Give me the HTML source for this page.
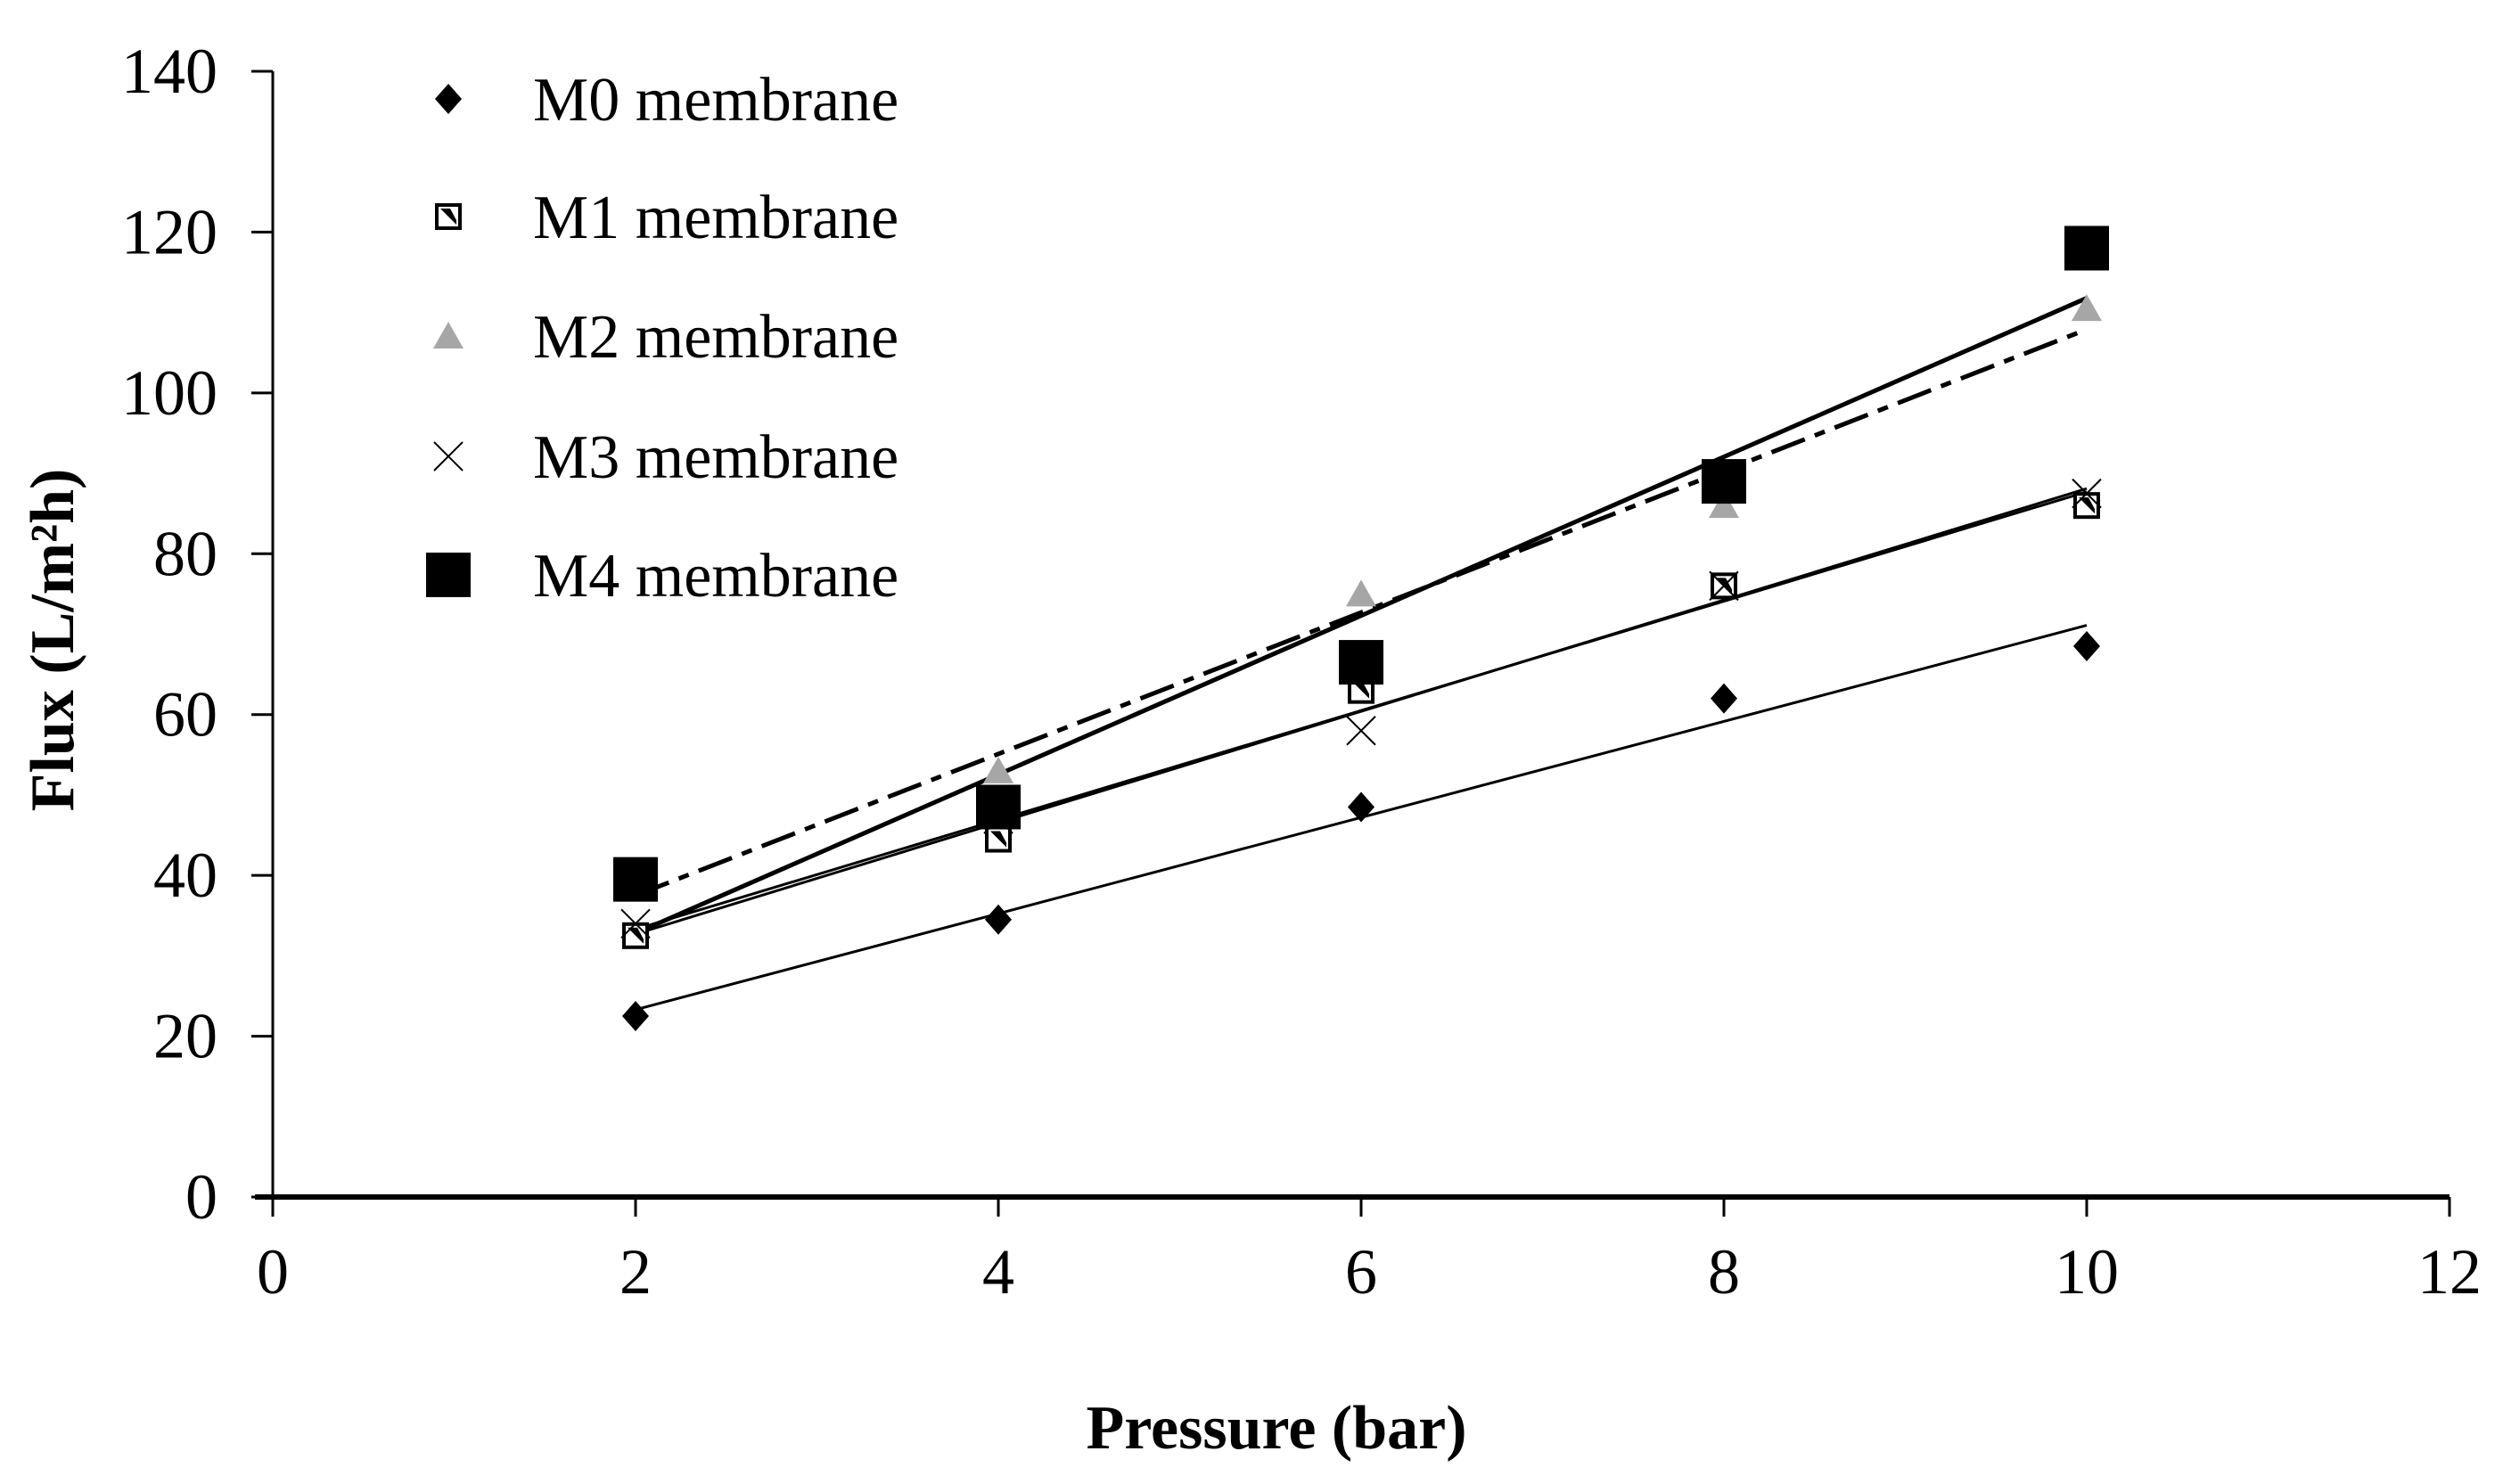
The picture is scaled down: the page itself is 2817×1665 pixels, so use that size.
<!DOCTYPE html>
<html><head><meta charset="utf-8"><style>
html,body{margin:0;padding:0;background:#fff;}
svg{display:block;font-family:"Liberation Serif",serif;}
</style></head><body>
<svg id="chart" width="2817" height="1665" viewBox="0 0 2817 1665" xmlns="http://www.w3.org/2000/svg">
<rect width="2817" height="1665" fill="#fff"/>
<g id="axes"></g><g id="lines"></g><g id="marks"></g><g id="legend"></g>
<text transform="translate(82,718) rotate(-90)" text-anchor="middle" font-weight="bold" font-size="70">Flux (L/m²h)</text>
<text x="1432" y="1625" text-anchor="middle" font-weight="bold" font-size="70">Pressure (bar)</text>
</svg>
<script>
const pressures = [2, 4, 6, 8, 10];
const m0Flux = [22.5, 34.5, 48.5, 62, 68.5];
const m1Flux = [32.5, 44.5, 63, 76, 86];
const m2Flux = [39, 53, 75, 86, 110.5];
const m3Flux = [34, 47, 58, 76, 87.5];
const m4Flux = [39.5, 48.5, 66.5, 89, 118];
const seriesNames = ["M0 membrane","M1 membrane","M2 membrane","M3 membrane","M4 membrane"];
const xTicks = [0, 2, 4, 6, 8, 10, 12];
const yTicks = [0, 20, 40, 60, 80, 100, 120, 140];

const NS = "http://www.w3.org/2000/svg";
const X0 = 306, X1 = 2748, Y0 = 1343, Y1 = 80;
function xs(v){ return X0 + (v - 0) / 12 * (X1 - X0); }
function ys(v){ return Y0 - v / 140 * (Y0 - Y1); }
function mk(tag, attrs, parent){ const e = document.createElementNS(NS, tag); for (const k in attrs) e.setAttribute(k, attrs[k]); parent.appendChild(e); return e; }

const axes = document.getElementById('axes');
let el = mk('line', {x1:xs(0), y1:ys(140), x2:xs(0), y2:ys(0), stroke:'#000', 'stroke-width':3}, axes);


el = mk('line', {x1:xs(0)-20, y1:ys(0), x2:xs(12), y2:ys(0), stroke:'#000', 'stroke-width':6}, axes);


yTicks.forEach(t => {
  const tk = mk('line', {x1:xs(0)-24, y1:ys(t), x2:xs(0), y2:ys(t), stroke:'#000', 'stroke-width':3}, axes);
  
  
  const lb = mk('text', {x:xs(0)-62, y:ys(t)+24, 'text-anchor':'end', 'font-size':72}, axes);
  lb.textContent = t;
  
  
});
xTicks.forEach(t => {
  const tk = mk('line', {x1:xs(t), y1:ys(0), x2:xs(t), y2:ys(0)+22, stroke:'#000', 'stroke-width':3}, axes);
  
  
  const lb = mk('text', {x:xs(t), y:ys(0)+108, 'text-anchor':'middle', 'font-size':72}, axes);
  lb.textContent = t;
  
  
});

const allSeries = [m0Flux, m1Flux, m2Flux, m3Flux, m4Flux];
const lineStyles = [
  {w:3, dash:null}, {w:3, dash:null}, {w:5, dash:'40 12 12 12'}, {w:3, dash:null}, {w:5, dash:null}
];
function fit(ys_){
  const n = pressures.length;
  const mx = pressures.reduce((a,b)=>a+b,0)/n, my = ys_.reduce((a,b)=>a+b,0)/n;
  let sxy=0, sxx=0;
  pressures.forEach((x,i)=>{ sxy += (x-mx)*(ys_[i]-my); sxx += (x-mx)*(x-mx); });
  const b = sxy/sxx; return {a: my - b*mx, b};
}
const lines = document.getElementById('lines');
allSeries.forEach((s, i) => {
  const f = fit(s);
  const xa = pressures[0], xb = pressures[pressures.length-1];
  const ln = mk('line', {x1:xs(xa), y1:ys(f.a+f.b*xa), x2:xs(xb), y2:ys(f.a+f.b*xb), stroke:'#000', 'stroke-width':lineStyles[i].w}, lines);
  if (lineStyles[i].dash) ln.setAttribute('stroke-dasharray', lineStyles[i].dash);
  
  
});

function marker(i, cx, cy, parent){
  const g = mk('g', {}, parent);
  if (i === 0) mk('polygon', {points:`${cx},${cy-17} ${cx+15},${cy} ${cx},${cy+17} ${cx-15},${cy}`, fill:'#000'}, g);
  else if (i === 1) {
    mk('rect', {x:cx-13, y:cy-13, width:26, height:26, fill:'#fff', stroke:'#000', 'stroke-width':4}, g);
    mk('polygon', {points:`${cx-9},${cy-9} ${cx+2},${cy-9} ${cx+9},${cy+4} ${cx+9},${cy+9}`, fill:'#000'}, g);
  }
  else if (i === 2) mk('polygon', {points:`${cx},${cy-16} ${cx+17},${cy+14} ${cx-17},${cy+14}`, fill:'#a6a6a6'}, g);
  else if (i === 3) { mk('path', {d:`M${cx-16},${cy-16}L${cx+16},${cy+16}M${cx+16},${cy-16}L${cx-16},${cy+16}`, stroke:'#000', 'stroke-width':2}, g); }
  else mk('rect', {x:cx-25, y:cy-25, width:50, height:50, fill:'#000'}, g);
  return g;
}
const marks = document.getElementById('marks');
allSeries.forEach((s, i) => {
  s.forEach((v, j) => {
    const g = marker(i, xs(pressures[j]), ys(v), marks);
    
    
  });
});

const legend = document.getElementById('legend');
const legY = [111, 243, 377, 512, 645];
seriesNames.forEach((nm, i) => {
  const g = mk('g', {}, legend);
  
  
  marker(i, 503, legY[i], g);
  const t = mk('text', {x:598, y:legY[i]+24, 'font-size':70}, g);
  t.textContent = nm;
});
</script>
</body></html>
